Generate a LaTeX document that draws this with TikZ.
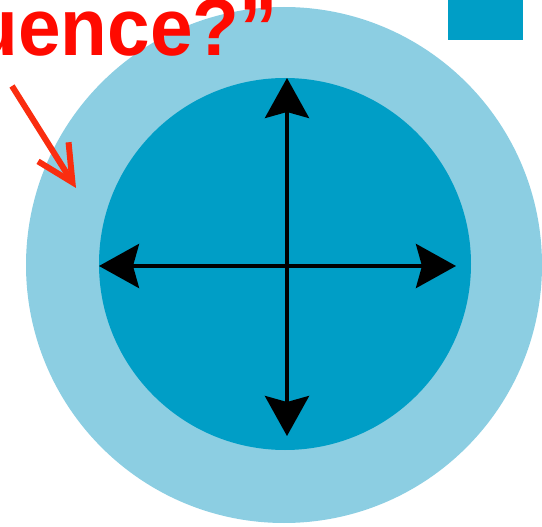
\documentclass[tikz,border=0pt]{standalone}
\usepackage{fontspec}
\setmainfont{Liberation Sans}
\usepackage{tikz}
\usetikzlibrary{arrows.meta, positioning, calc}
\definecolor{ringblue}{RGB}{140,206,226}
\definecolor{coreblue}{RGB}{0,158,198}
\definecolor{alertred}{RGB}{255,10,0}
\definecolor{pointred}{RGB}{250,45,15}
\tikzset{
  ringnode/.style={circle,fill=ringblue,draw=none,inner sep=0pt},
  corenode/.style={circle,fill=coreblue,draw=none,inner sep=0pt},
  keynode/.style={rectangle,fill=coreblue,draw=none,inner sep=0pt},
  asktext/.style={font=\fontsize{81}{90}\selectfont\bfseries,text=alertred,inner sep=0pt,xscale=0.945},
  dirarr/.style={-{Stealth[length=40pt,width=44pt,inset=6pt]},line width=4pt,color=black},
  hintarr/.style={-{Straight Barb[length=36pt,width=36pt]},line width=6pt,color=pointred}
}

\begin{document}
\begin{tikzpicture}[x=1pt,y=1pt]
  \useasboundingbox (0,0) rectangle (542,-527);
  \clip (0,0) rectangle (542,-527);

  %% Circles
  \node[ringnode,minimum size=516pt] (outer) at (284,-265) {};
  \node[corenode,minimum size=372pt] (inner) at (285,-264) {};

  %% Legend square
  \node[keynode,minimum width=75pt,minimum height=46pt,anchor=south west] (key) at (448,-40) {};

  %% Directions
  \coordinate (hub) at (287,-266);
  \coordinate (tipN) at (287,-78);
  \coordinate (tipS) at (287,-436);
  \coordinate (tipW) at (99,-266);
  \coordinate (tipE) at (456,-266);
  \draw[dirarr] (hub) -- (tipN);
  \draw[dirarr] (hub) -- (tipS);
  \draw[dirarr] (hub) -- (tipW);
  \draw[dirarr] (hub) -- (tipE);

  %% Question and pointer
  \node[asktext,anchor=base east] (ask) at (278,-56) {uence?”};
  \coordinate (hintstart) at (12,-86);
  \coordinate (hintend) at (76,-188);
  \draw[hintarr] (hintstart) -- (hintend);
\end{tikzpicture}
\end{document}
